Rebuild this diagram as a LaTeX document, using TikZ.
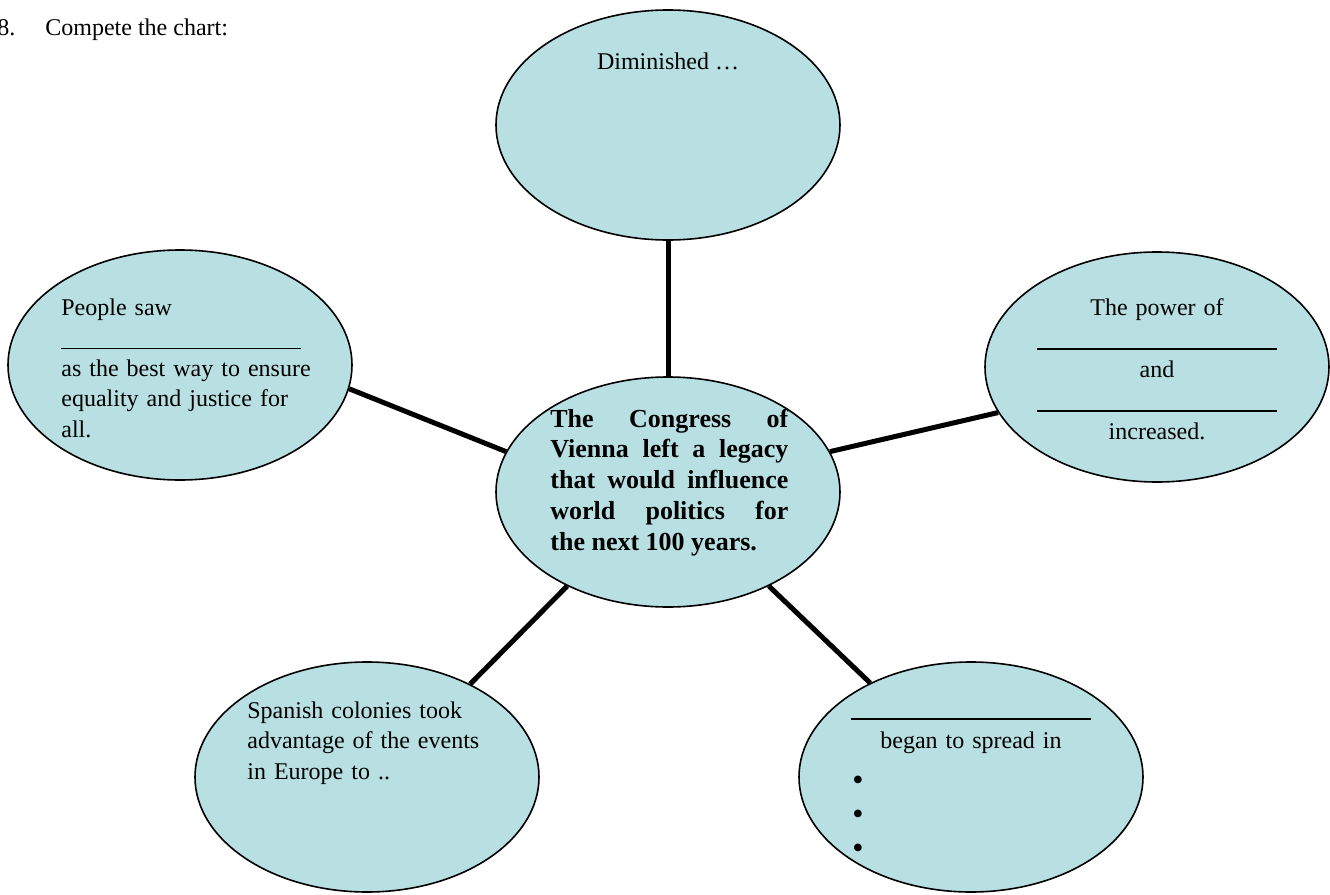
\documentclass[tikz,border=0pt]{standalone}
\usepackage{fontspec}
\setmainfont{Liberation Serif}
\usepackage{tikz}
\usetikzlibrary{shapes.geometric, positioning}
\definecolor{bubblefill}{RGB}{184,223,226}
\newcommand{\answerline}{\rule[-1.8pt]{120pt}{0.8pt}}

\begin{document}
\begin{tikzpicture}[
    x=0.5pt, y=-0.5pt,
    bubble/.style={ellipse, draw, line width=0.8pt, fill=bubblefill, minimum width=172pt, minimum height=115pt, inner sep=0pt},
    txt/.style={inner sep=0pt, font=\fontsize{12pt}{15.25pt}\selectfont},
    link/.style={line width=2.5pt}
]
\useasboundingbox (0,0) rectangle (1330,895);
\node[txt, anchor=base west] (title) at (-3,35) {8.\hspace{15pt}Compete the chart:};

\node[bubble] (ctr) at (668,492) {};
\node[bubble] (top) at (668,125) {};
\node[bubble] (left) at (180,365) {};
\node[bubble] (right) at (1157,367) {};
\node[bubble] (botleft) at (367,777) {};
\node[bubble] (botright) at (971,777) {};

\draw[link] (top.south) -- (ctr.north);
\draw[link] (left.-8) -- (ctr.166);
\draw[link] (right.196) -- (ctr.14);
\draw[link] (botleft.42) -- (ctr.223);
\draw[link] (botright.137) -- (ctr.-43);

\node[txt, anchor=base west, text width=119pt, align=justify, font=\fontsize{13pt}{15.4pt}\selectfont\bfseries] (ctrtext) at (550,427)
    {The Congress of\linebreak Vienna left a legacy\linebreak that would influence\linebreak world politics for\linebreak the next 100 years.};
\node[txt, anchor=base] (toptext) at (668,69) {Diminished …};
\node[txt, anchor=base west, text width=150pt, align=left] (lefttext) at (61,315)
    {People saw\\ \answerline\\ as the best way to ensure\\ equality and justice for\\ all.};
\node[txt, anchor=base, text width=150pt, align=center, font=\fontsize{12pt}{15.5pt}\selectfont] (righttext) at (1157,315)
    {The power of\\ \answerline\\ and\\ \answerline\\ increased.};
\node[txt, anchor=base west, text width=150pt, align=left] (blefttext) at (247,718)
    {Spanish colonies took\\ advantage of the events\\ in Europe to ..};
\node[txt, anchor=base, text width=150pt, align=center, font=\fontsize{12pt}{16pt}\selectfont] (brighttext) at (971,716)
    {\answerline\\ began to spread in};
\node[txt, anchor=base west, text width=20pt, align=left, font=\fontsize{16pt}{17pt}\selectfont] (brightlist) at (852,790)
    {\textbullet\\ \textbullet\\ \textbullet};
\end{tikzpicture}
\end{document}
